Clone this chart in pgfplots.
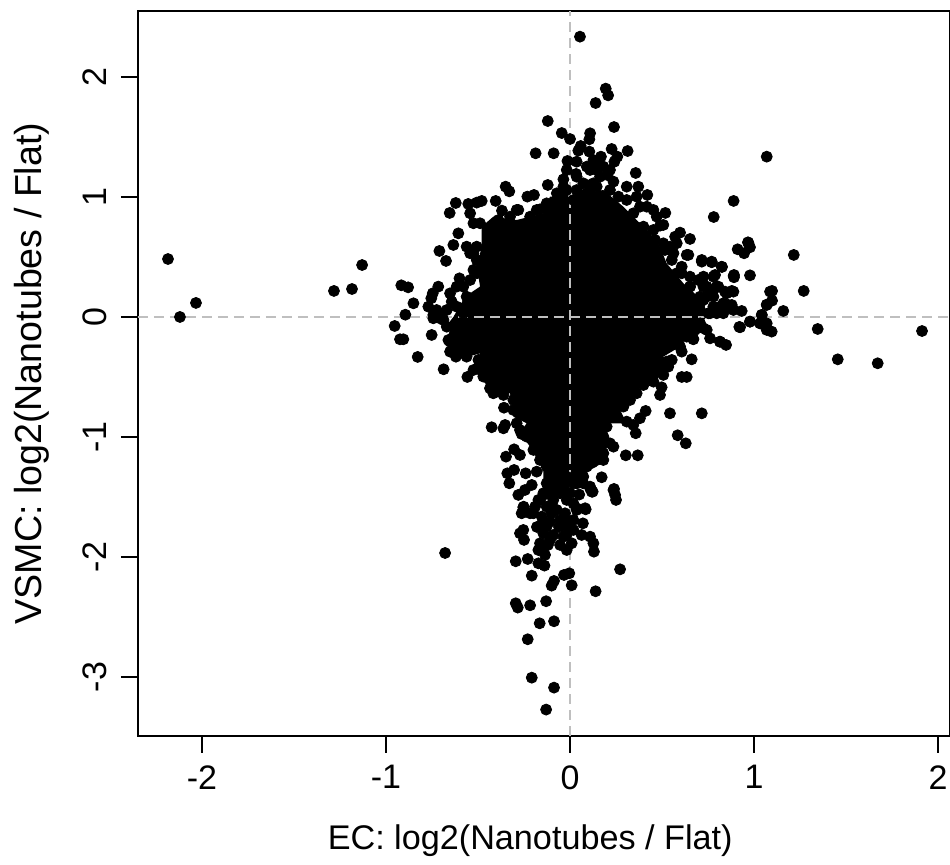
\documentclass[border=0pt]{standalone}
\usepackage{pgfplots}
\pgfplotsset{compat=1.18}
\usepackage{fontspec}
\setmainfont{Liberation Sans}
\begin{document}
\begin{tikzpicture}[x=1pt,y=1pt]
\path[use as bounding box] (-69,-64.5) rectangle (406,368);
\begin{axis}[
  at={(0,0)},anchor=south west,
  scale only axis,width=406pt,height=362.5pt,
  xmin=-2.348,xmax=2.065,ymin=-3.492,ymax=2.55,
  axis line style={black,line width=0.8pt},
  clip=true,
  xtick={-2,-1,0,1,2},xticklabels={-2,-1,0,1,2},
  ytick={-3,-2,-1,0,1,2},yticklabels={-3,-2,-1,0,1,2},
  xtick pos=bottom,ytick pos=left,tick align=outside,
  tick style={black,line width=0.6pt},
  major tick length=8.5pt,
  x tick label style={font=\fontsize{17}{20}\selectfont,inner sep=0pt,yshift=-6pt},
  y tick label style={font=\fontsize{17}{20}\selectfont,rotate=90,anchor=south,inner sep=0pt,yshift=7pt},
  xlabel={EC: log2(Nanotubes / Flat)},
  ylabel={VSMC: log2(Nanotubes / Flat)},
  xlabel style={font=\fontsize{17.1}{20}\selectfont,at={(axis description cs:0.483,-0.1445)},anchor=center,inner sep=0pt},
  ylabel style={font=\fontsize{18.8}{20}\selectfont,at={(axis description cs:-0.131,0.5)},anchor=center,inner sep=0pt},
]
\addplot[fill=black,draw=none,forget plot] coordinates {
(-.634,0)(-.571,.169)(-.489,.253)(-.507,.419)(-.480,.586)(-.480,.753)(-.417,.836)(-.290,.808)(-.145,.864)(-.109,1.003)(0,1.003)(.072,1.031)(.181,1.058)(.290,.919)(.362,.808)(.435,.697)(.489,.586)(.525,.447)(.616,.281)(.697,.169)(.743,0)
(.652,-.136)(.598,-.247)(.507,-.331)(.525,-.414)(.471,-.525)(.362,-.608)(.344,-.664)(.272,-.775)(.308,-.886)(.199,-.886)(.199,-1.108)(.145,-1.247)(.036,-1.331)(0,-1.497)(-.145,-1.525)(-.145,-1.275)(-.217,-1.081)(-.272,-.969)(-.236,-.886)(-.308,-.831)(-.326,-.636)(-.435,-.664)(-.453,-.567)(-.534,-.428)(-.489,-.303)(-.616,-.358)(-.670,-.275)(-.652,-.164)(-.661,-.053)(-.634,0)
} -- cycle;
\addplot[only marks,mark=*,mark size=2.75pt,mark options={fill=black,draw=none},forget plot] coordinates {
(.054,2.336)(.194,1.903)(.207,1.847)(.139,1.783)(-.121,1.633)(.239,1.583)(-.045,1.533)(0,1.483)(.109,1.531)(.105,1.481)(.058,1.425)(.045,1.386)(.105,1.378)(.226,1.400)(.313,1.383)(-.187,1.364)(-.089,1.364)(.168,1.336)(.257,1.336)(.241,1.294)(-.014,1.300)(.036,1.294)(.154,1.281)(.109,1.225)(-.018,1.225)(.033,1.192)(.357,1.200)(.203,1.183)(.236,1.128)(-.036,1.147)(-.121,1.100)(-.036,1.086)(-.350,1.086)(-.330,1.047)(.109,1.100)(.308,1.086)(.371,1.086)(-.232,1.003)(-.196,1.017)(.420,1.017)(-.480,.967)(-.404,.967)(-.621,.950)(-.553,.942)(-.507,.953)(-.654,.867)(-.281,.892)(-.370,.886)(-.163,.897)(.518,.867)(.453,.892)(.889,.967)(.781,.833)(.489,.761)(.598,.703)(.652,.650)(.967,.622)(.911,.564)(.978,.581)(.946,.531)(-.710,.550)(-.674,.467)(-.607,.697)(-.634,.600)(-.562,.586)(-.543,.531)(1.069,1.336)(.507,.614)(.571,.669)(.562,.531)(.634,.517)(.716,.475)(.770,.456)(.826,.417)(.889,.342)(.978,.347)(-.917,.264)(-.880,.247)(-.716,.253)(-.746,.197)(-.754,.156)(-.851,.114)(-.770,.086)(-.725,.058)(-.895,.019)(-.601,.322)(-.507,.364)(-.616,.253)(-.643,.128)(.725,.336)(.779,.336)(.888,.211)(.933,.050)(1.042,.017)(1.069,.100)(1.087,.211)(.815,.086)(.861,.100)(.797,.031)(.833,.031)(.743,.169)(.607,.419)(.652,.336)(.580,.364)(.652,.253)(.725,.253)(.779,.225)(.707,.114)(.779,.169)
(-.953,-.075)(-.752,-.150)(-.924,-.186)(-.906,-.186)(-.828,-.333)(-.687,-.436)(-.558,-.500)(-.652,-.289)(-.620,-.331)(-.652,-.206)(.924,-.086)(.978,-.039)(1.033,-.053)(1.069,-.108)(.670,-.186)(.761,-.178)(.815,-.206)(.848,-.233)(.607,-.289)(.661,-.353)(.607,-.500)(.634,-.500)(.498,-.586)(.489,-.650)(.411,-.783)(.543,-.803)(.716,-.803)(.357,-.969)(.585,-.986)(.629,-1.053)(.303,-1.153)(.368,-1.153)(-.426,-.919)(-.362,-.928)(-.353,-.900)(-.359,-.756)(-.263,-.975)(-.304,-1.103)(-.348,-1.164)(-.272,-1.150)(-.304,-1.275)(-.341,-1.303)(-.241,-1.303)(-.330,-1.386)(-.208,-1.400)(-.245,-1.442)(-.281,-1.483)(.109,-1.428)(.118,-1.456)(.239,-1.433)(.245,-1.483)(.250,-1.525)(.172,-1.336)(-.252,-1.581)(.036,-1.594)(.082,-1.594)(.236,-1.081)(.181,-1.192)(-.181,-1.289)(.072,-1.331)(.036,-1.386)(-.163,-1.525)(-.054,-1.442)
(-.127,-1.386)(-.054,-1.386)(.036,-1.386)(.109,-1.414)(.123,-1.456)(.236,-1.442)(-.172,-1.525)(-.054,-1.469)(-.018,-1.525)(-.254,-1.586)(-.263,-1.636)(-.199,-1.636)(-.127,-1.581)(-.072,-1.608)(.036,-1.608)(.085,-1.603)(-.027,-1.636)(-.109,-1.706)(.018,-1.692)(-.254,-1.775)(-.272,-1.803)(-.250,-1.858)(-.145,-1.803)(-.091,-1.817)(.018,-1.775)(.109,-1.831)(.127,-1.886)(.130,-1.956)(-.163,-1.886)(-.172,-1.942)(-.136,-1.983)(-.054,-1.900)(-.018,-1.942)(.009,-1.886)(-.295,-2.036)(-.230,-2.017)(-.172,-2.053)(-.139,-2.072)(-.208,-2.156)(.272,-2.103)(-.033,-2.150)(-.004,-2.136)(-.087,-2.200)(-.100,-2.239)(.009,-2.236)(.139,-2.286)(-.295,-2.386)(-.284,-2.422)(-.217,-2.403)(-.130,-2.369)(-.165,-2.553)(-.087,-2.536)(-.230,-2.686)(-.208,-3.006)(-.087,-3.089)(-.130,-3.272)
(-.09,-1.45)(-.02,-1.7)(-.1,-1.6)(-.15,-1.72)(-.06,-1.75)(-.12,-1.9)(-.02,-1.82)(.05,-1.48)(.07,-1.72)(-.18,-1.75)
(1.098,.217)(1.270,.217)(1.216,.517)(1.098,.136)(1.069,.103)(1.159,.050)(1.042,.017)(.978,-.039)(1.033,-.053)(1.069,-.053)(1.096,-.122)(.920,-.083)(1.346,-.100)(1.913,-.117)(1.455,-.353)(1.672,-.386)(.969,.619)(.891,.350)(.891,.331)(.879,.217)(.842,.211)(.879,.100)(.824,.058)(.797,.253)(.788,.350)(.815,-.206)(.670,-.183)(.725,-.094)(.525,-.372)(.707,.169)(.752,.031)(.643,.517)(.716,.461)(.770,.461)(.824,.419)
(-2.185,.483)(-2.033,.117)(-2.120,0)(-1.283,.217)(-1.185,.233)(-1.130,.433)(-.679,-1.967)
(-.072,1.031)(.036,1.058)(.091,1.031)(.145,1.086)(.217,1.058)(.263,1.003)(.308,.975)(.362,1.003)(.380,.919)(.344,.864)(.417,.919)(.471,.836)(.399,.753)(.453,.725)(.507,.767)(.462,.642)(.516,.558)(.543,.586)(.580,.614)(.553,.475)(.607,.364)(.652,.253)(.697,.308)(.743,.253)(.806,.253)(.851,.197)(.725,.142)(.779,.086)(.652,.114)(.707,.058)(.761,.031)(.833,.114)(.888,.058)
(-.543,.864)(-.525,.781)(-.489,.781)(-.389,.808)(-.326,.836)(-.290,.892)(-.217,.836)(-.181,.892)(-.127,.947)(-.054,.975)(.018,.975)(.109,1.058)(.036,1.169)(.091,1.253)(.127,1.308)(.145,1.225)(.181,1.253)(.217,1.225)(.163,1.169)(.127,1.114)(.063,1.003)(-.018,1.058)(-.036,1.031)(.072,1.114)
(-.507,.586)(-.525,.531)(-.507,.475)(-.525,.392)(-.543,.308)(-.580,.253)(-.562,.169)(-.616,.086)(-.580,.031)(-.670,.058)(-.707,.031)(-.652,.197)(-.743,.017)
(.707,-.053)(.743,-.108)(.634,-.164)(.679,-.108)(.598,-.247)(.553,-.358)(.534,-.414)(.507,-.483)(.453,-.539)(.399,-.567)(.362,-.636)(.326,-.692)(.290,-.747)(.308,-.872)(.344,-.900)(.380,-.844)(.254,-.831)(.199,-.914)(.181,-.997)(.217,-1.053)(.181,-1.136)(.145,-1.192)(.091,-1.247)(.036,-1.303)(.072,-1.386)(.018,-1.386)(-.018,-1.331)(-.072,-1.275)(-.127,-1.247)(-.163,-1.192)(-.199,-1.108)(-.236,-.997)(-.272,-.942)(-.290,-.886)(-.308,-.775)(-.308,-.692)(-.362,-.650)(-.417,-.636)(-.435,-.594)(-.471,-.497)(-.525,-.442)(-.498,-.358)(-.562,-.331)(-.625,-.275)(-.661,-.192)(-.634,-.164)(-.670,-.081)(-.688,-.025)(-.707,-.011)(-.743,-.011)
(-.109,-1.442)(-.036,-1.414)(0,-1.469)(-.145,-1.469)(-.091,-1.525)(.018,-1.553)(-.190,-1.581)(-.054,-1.692)(-.127,-1.747)(-.018,-1.747)(-.109,-1.858)(-.145,-1.914)(-.036,-1.831)(.063,-1.817)(-.217,-1.636)(-.154,-1.664)(-.100,-1.636)
};
\addplot[color={rgb,1:red,.75;green,.75;blue,.75},line width=1pt,dash pattern=on 5pt off 3pt,forget plot] coordinates {(-2.348,0)(2.065,0)};
\addplot[color={rgb,1:red,.75;green,.75;blue,.75},line width=1pt,dash pattern=on 5pt off 3pt,forget plot] coordinates {(0,-3.492)(0,2.55)};
\end{axis}
\end{tikzpicture}
\end{document}
